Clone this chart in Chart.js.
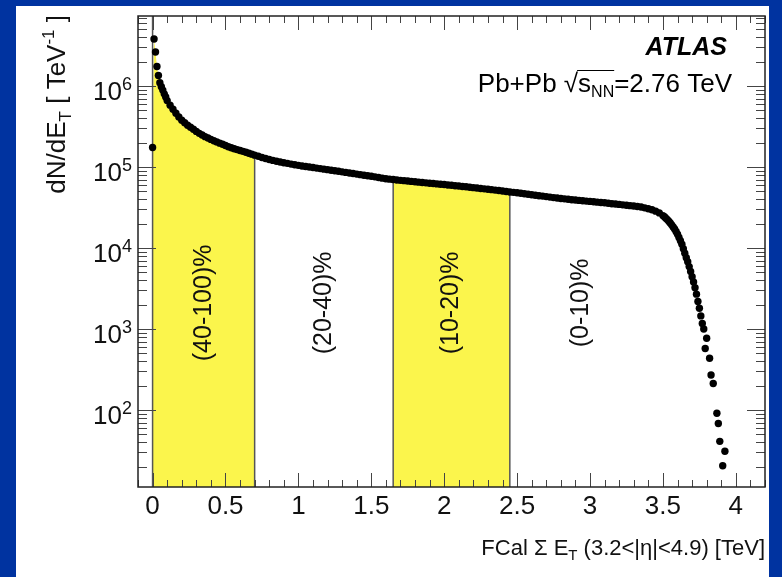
<!DOCTYPE html>
<html><head><meta charset="utf-8">
<script src="https://cdn.jsdelivr.net/npm/chart.js@4/dist/chart.umd.min.js"></script>
<style>html,body{margin:0;padding:0;background:#0033a0;overflow:hidden}
#wrap{position:absolute;left:0;top:0;width:782px;height:577px}</style>
</head><body><div id="wrap"><canvas id="c" width="782" height="577"></canvas></div>
<script>
// FCal sum E_T bin centres [TeV]
const etSteep = [0,0.01,0.02,0.03,0.04,0.05,0.06,0.07,0.08,0.09,0.10];
const dndetSteep = [1.74e5,3.80e6,2.63e6,1.74e6,1.35e6,1.10e6,9.8e5,8.9e5,8.0e5,7.3e5,6.6e5];
const etPeripheral = [0.12,0.14,0.16,0.18,0.20,0.22,0.24,0.26,0.28,0.30,0.32,0.34,0.36,0.38,0.40,0.42,0.44,0.46,0.48,0.50,0.52,0.54,0.56,0.58,0.60,0.62,0.64,0.66,0.68,0.70];
const dndetPeripheral = [5.8e5,5.15e5,4.6e5,4.15e5,3.78e5,3.51e5,3.27e5,3.09e5,2.92e5,2.75e5,2.60e5,2.48e5,2.37e5,2.28e5,2.19e5,2.11e5,2.04e5,1.97e5,1.91e5,1.84e5,1.78e5,1.73e5,1.68e5,1.64e5,1.60e5,1.56e5,1.52e5,1.48e5,1.44e5,1.40e5];
const etPlateau = [0.725,0.75,0.775,0.8,0.825,0.85,0.875,0.9,0.925,0.95,0.975,1,1.025,1.05,1.075,1.1,1.125,1.15,1.175,1.2,1.225,1.25,1.275,1.3,1.325,1.35,1.375,1.4,1.425,1.45,1.475,1.5,1.525,1.55,1.575,1.6,1.625,1.65,1.675,1.7,1.725,1.75,1.775,1.8,1.825,1.85,1.875,1.9,1.925,1.95,1.975,2,2.025,2.05,2.075,2.1,2.125,2.15,2.175,2.2,2.225,2.25,2.275,2.3,2.325,2.35,2.375,2.4,2.425,2.45,2.475,2.5,2.525,2.55,2.575,2.6,2.625,2.65,2.675,2.7,2.725,2.75,2.775,2.8,2.825,2.85,2.875,2.9,2.925,2.95,2.975,3,3.025,3.05,3.075,3.1,3.125,3.15,3.175,3.2,3.225,3.25,3.275,3.3,3.325,3.35,3.375,3.4,3.425,3.45,3.475,3.5];
const dndetPlateau = [1.355e5,1.31e5,1.27e5,1.236e5,1.205e5,1.178e5,1.153e5,1.13e5,1.109e5,1.086e5,
 1.067e5,1.047e5,1.03e5,1.014e5,1.0e5,9.84e4,9.68e4,9.55e4,9.40e4,9.27e4,
 9.12e4,8.97e4,8.85e4,8.71e4,8.57e4,8.43e4,8.30e4,8.17e4,8.04e4,7.91e4,
 7.80e4,7.67e4,7.55e4,7.41e4,7.28e4,7.16e4,7.08e4,7.00e4,6.92e4,6.84e4,
 6.78e4,6.70e4,6.64e4,6.58e4,6.50e4,6.44e4,6.37e4,6.31e4,6.25e4,6.18e4,
 6.12e4,6.07e4,6.00e4,5.94e4,5.87e4,5.82e4,5.75e4,5.69e4,5.62e4,5.56e4,
 5.50e4,5.43e4,5.37e4,5.31e4,5.25e4,5.18e4,5.12e4,5.05e4,4.99e4,4.92e4,
 4.86e4,4.80e4,4.73e4,4.67e4,4.60e4,4.54e4,4.48e4,4.42e4,4.37e4,4.31e4,
 4.25e4,4.19e4,4.14e4,4.08e4,4.04e4,3.99e4,3.94e4,3.91e4,3.87e4,3.83e4,
 3.79e4,3.76e4,3.72e4,3.68e4,3.64e4,3.61e4,3.56e4,3.52e4,3.49e4,3.45e4,
 3.41e4,3.37e4,3.33e4,3.30e4,3.25e4,3.20e4,3.13e4,3.05e4,2.96e4,2.85e4,
 2.71e4,2.51e4];
const etFalloff = [3.51,3.52,3.53,3.54,3.55,3.56,3.57,3.58,3.59,3.60,3.61,3.62,3.63,3.64,3.65,3.66,3.67,3.68,3.69,3.70,3.71,3.72,3.73,3.74,3.75,3.76,3.77];
const dndetFalloff = [2.43e4,2.33e4,2.24e4,2.14e4,2.04e4,1.93e4,1.82e4,1.72e4,1.60e4,1.48e4,1.35e4,1.23e4,1.11e4,9.77e3,8.61e3,7.59e3,6.76e3,5.89e3,5.13e3,4.42e3,3.80e3,3.24e3,2.69e3,2.19e3,1.80e3,1.45e3,1.17e3];
const etTail = [3.78,3.79,3.80,3.82,3.83,3.845,3.87,3.88,3.89,3.91,3.925];
const dndetTail = [1.0e3,575,770,435,270,212,91,68,41,20.5,31];

const centralityEdges = [0, 0.70, 1.65, 2.45];
const shadedBands = [[0, 0.70], [1.65, 2.45]];
const bandLabels = ['(40-100)%', '(20-40)%', '(10-20)%', '(0-10)%'];
const bandLabelEt = [0.35, 1.175, 2.05, 2.94];
const bandLabelLevel = 2100;
const xTickValues = [0, 0.5, 1, 1.5, 2, 2.5, 3, 3.5, 4];
const xTickLabels = ['0', '0.5', '1', '1.5', '2', '2.5', '3', '3.5', '4'];
const yDecades = [2, 3, 4, 5, 6];
const xRange = [-0.1, 4.2];
const yRange = [11.2, 7.31e6];

const FONT = '"Liberation Sans", Arial, Helvetica, sans-serif';
const et = [].concat(etSteep, etPeripheral, etPlateau, etFalloff, etTail);
const dndet = [].concat(dndetSteep, dndetPeripheral, dndetPlateau, dndetFalloff, dndetTail);
const points = et.map((x, i) => ({x, y: dndet[i]}));
const valueAt = e => { let best = points[0]; for (const p of points) if (Math.abs(p.x - e) < Math.abs(best.x - e)) best = p; return best.y; };

const datasets = [];
shadedBands.forEach(b => {
  datasets.push({type: 'line', data: points.filter(p => p.x >= b[0] && p.x <= b[1] + 1e-9),
    fill: 'start', backgroundColor: '#fbf54c', borderWidth: 0, borderColor: 'rgba(0,0,0,0)',
    pointRadius: 0, tension: 0, order: 5});
});
centralityEdges.forEach(e => {
  datasets.push({type: 'line', data: [{x: e, y: yRange[0]}, {x: e, y: e === 0 ? yRange[1] : valueAt(e)}],
    borderColor: '#555', borderWidth: 1.5, pointRadius: 0, fill: false, order: 4});
});
datasets.push({type: 'scatter', data: points, backgroundColor: '#000', borderWidth: 0, pointRadius: 3.7, order: 1});

function rich(c, x, y, segs, align) {
  let w = 0;
  segs.forEach(s => { c.font = (s.style || '') + ' ' + s.size + 'px ' + FONT; s.w = c.measureText(s.t).width; w += s.w; });
  let cx = align === 'right' ? x - w : align === 'center' ? x - w / 2 : x;
  c.textAlign = 'left'; c.textBaseline = 'alphabetic';
  segs.forEach(s => { c.font = (s.style || '') + ' ' + s.size + 'px ' + FONT; s.x = cx; c.fillText(s.t, cx, y + (s.dy || 0)); cx += s.w; });
  return segs;
}

const decor = {
  id: 'decor',
  beforeDraw(chart) {
    const c = chart.ctx; c.save();
    c.fillStyle = '#0033a0'; c.fillRect(0, 0, chart.width, chart.height);
    c.fillStyle = '#ffffff'; c.fillRect(16, 6, 753, 571);
    c.restore();
  },
  afterDatasetsDraw(chart) {
    const c = chart.ctx, a = chart.chartArea, xs = chart.scales.x, ys = chart.scales.y;
    c.save();
    // band labels
    c.fillStyle = '#111';
    bandLabels.forEach((t, i) => {
      c.save(); c.translate(xs.getPixelForValue(bandLabelEt[i]), ys.getPixelForValue(bandLabelLevel));
      c.rotate(-Math.PI / 2); c.font = '25px ' + FONT; c.textAlign = 'center'; c.textBaseline = 'middle';
      c.fillText(t, 0, 0); c.restore();
    });
    // ticks
    c.strokeStyle = '#444'; c.lineWidth = 1;
    c.beginPath();
    for (let n = 1; n <= 6; n++) for (let m = 1; m <= 9; m++) {
      const v = m * Math.pow(10, n); if (v < yRange[0] || v > yRange[1]) continue;
      const py = Math.round(ys.getPixelForValue(v)) + 0.5, L = m === 1 ? 18 : 9;
      c.moveTo(a.left, py); c.lineTo(a.left + L, py);
      c.moveTo(a.right, py); c.lineTo(a.right - L, py);
    }
    for (let k = -1; k <= 42; k++) {
      const v = k / 10; if (v < xRange[0] || v > xRange[1]) continue;
      const px = Math.round(xs.getPixelForValue(v)) + 0.5, L = k % 5 === 0 ? 14 : 7;
      c.moveTo(px, a.bottom); c.lineTo(px, a.bottom - L);
      c.moveTo(px, a.top); c.lineTo(px, a.top + L);
    }
    c.stroke();
    // frame
    c.strokeStyle = '#222'; c.lineWidth = 1.5;
    c.strokeRect(a.left, a.top, a.right - a.left, a.bottom - a.top);
    // x tick labels
    c.fillStyle = '#111'; c.font = '26px ' + FONT; c.textAlign = 'center'; c.textBaseline = 'alphabetic';
    xTickValues.forEach((v, i) => c.fillText(xTickLabels[i], xs.getPixelForValue(v), a.bottom + 27));
    // y tick labels
    yDecades.forEach(n => {
      const py = ys.getPixelForValue(Math.pow(10, n));
      c.font = '18px ' + FONT; const ew = c.measureText(String(n)).width;
      c.textAlign = 'right'; c.fillText(String(n), 132, py + 4);
      c.font = '26px ' + FONT; c.fillText('10', 132 - ew, py + 14);
    });
    // x title
    rich(c, a.right, a.bottom + 68, [
      {t: 'FCal \u03A3 E', size: 22}, {t: 'T', size: 15, dy: 5}, {t: ' (3.2<|\u03B7|<4.9) [TeV]', size: 22}], 'right');
    // y title
    c.save(); c.translate(65, a.top - 1); c.rotate(-Math.PI / 2);
    rich(c, 0, 0, [{t: 'dN/dE', size: 26}, {t: 'T', size: 17, dy: 6}, {t: ' [ TeV', size: 26}, {t: '-1', size: 17, dy: -11}, {t: ' ]', size: 26}], 'right');
    c.restore();
    // ATLAS label
    c.fillStyle = '#000';
    rich(c, 727, 55, [{t: 'ATLAS', size: 25, style: 'italic bold'}], 'right');
    const segs = rich(c, 732, 92, [{t: 'Pb+Pb ', size: 26}, {t: '\u221A', size: 26}, {t: 's', size: 26}, {t: 'NN', size: 16, dy: 5}, {t: '=2.76 TeV', size: 26}], 'right');
    c.strokeStyle = '#000'; c.lineWidth = 1.2; c.beginPath();
    c.moveTo(segs[1].x + segs[1].w - 1, 70.5); c.lineTo(segs[3].x + segs[3].w, 70.5); c.stroke();
    c.restore();
  }
};

new Chart(document.getElementById('c'), {
  data: {datasets},
  options: {
    responsive: false, animation: false, devicePixelRatio: 1,
    layout: {padding: {left: 138, top: 16, right: 17, bottom: 90}},
    plugins: {legend: {display: false}, tooltip: {enabled: false}},
    scales: {
      x: {type: 'linear', min: xRange[0], max: xRange[1], display: false},
      y: {type: 'logarithmic', min: yRange[0], max: yRange[1], display: false}
    }
  },
  plugins: [decor]
});
</script></body></html>
